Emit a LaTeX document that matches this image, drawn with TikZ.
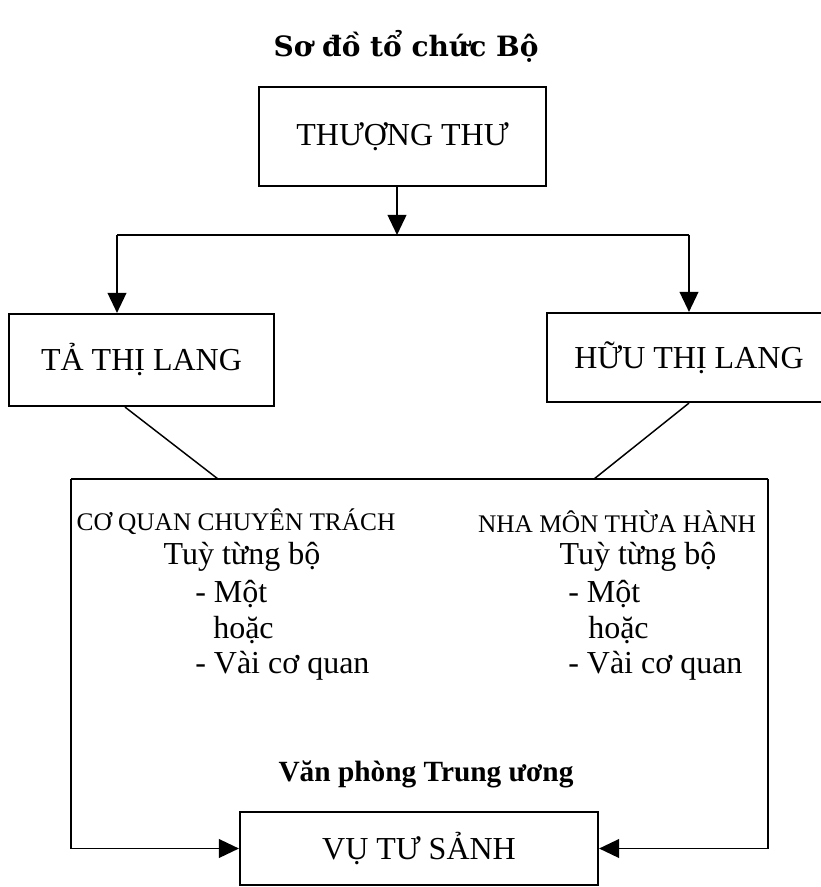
\documentclass[tikz,border=0pt]{standalone}
\usepackage{fontspec}
\setmainfont{Liberation Serif}
\newfontfamily\titlefont{DejaVu Serif}
\usetikzlibrary{arrows.meta}
\tikzset{
  boxnode/.style={draw, line width=1.6pt, inner sep=0pt, font=\fontsize{24pt}{28pt}\selectfont},
  conn/.style={line width=1.3pt},
  diag/.style={line width=1.1pt},
  arr/.style={conn, -{Triangle[length=15pt,width=14pt]}},
  headtxt/.style={inner sep=0pt, font=\fontsize{19pt}{22pt}\selectfont},
  bodytxt/.style={inner sep=0pt, font=\fontsize{24pt}{28pt}\selectfont},
  listtxt/.style={bodytxt, anchor=west},
}
\begin{document}
\begin{tikzpicture}[x=0.75pt, y=-0.75pt]
\useasboundingbox (0,0) rectangle (820,887);
% title
\node[inner sep=0pt, font=\titlefont\bfseries\fontsize{21pt}{25pt}\selectfont] (title) at (406,46) {Sơ đồ tổ chức Bộ};
% boxes
\node[boxnode, minimum width=287*0.75pt, minimum height=99*0.75pt] (top) at (402.5,136.5) {THƯỢNG THƯ};
\node[boxnode, minimum width=265*0.75pt, minimum height=92*0.75pt] (ta) at (141.5,360) {TẢ THỊ LANG};
\node[boxnode, minimum width=284*0.75pt, minimum height=89*0.75pt] (huu) at (689,357.5) {HỮU THỊ LANG};
\node[boxnode, minimum width=358*0.75pt, minimum height=73*0.75pt] (vu) at (419,848.5) {VỤ TƯ SẢNH};
% top connectors
\coordinate (hub) at (397,235);
\coordinate (hl) at (117,235);
\coordinate (hr) at (689,235);
\draw[arr] (hub |- top.south) -- (hub);
\draw[conn] (hl) -- (hr);
\draw[arr] (hl) -- (hl |- ta.north);
\draw[arr] (hr) -- (hr |- huu.north);
% big open frame
\coordinate (tl) at (71,479);
\coordinate (tr) at (768,479);
\coordinate (d1) at (218,479);
\coordinate (d2) at (594,479);
\draw[conn] (tl) -- (tr);
\draw[arr] (tl) |- (vu.west);
\draw[arr] (tr) |- (vu.east);
\draw[diag] ([xshift=-16.5*0.75pt]ta.south) -- (d1);
\draw[diag] (huu.south) -- (d2);
% left column
\node[headtxt] (cq) at (236,522) {CƠ QUAN CHUYÊN TRÁCH};
\node[bodytxt] (tl1) at (242,557) {Tuỳ từng bộ};
\node[listtxt] (tl2) at (195,594) {- Một};
\node[listtxt] (tl3) at (213,630) {hoặc};
\node[listtxt] (tl4) at (195,666) {- Vài cơ quan};
% right column
\node[headtxt] (nm) at (617,522) {NHA MÔN THỪA HÀNH};
\node[bodytxt] (tr1) at (638,557) {Tuỳ từng bộ};
\node[listtxt] (tr2) at (568,594) {- Một};
\node[listtxt] (tr3) at (588,630) {hoặc};
\node[listtxt] (tr4) at (568,666) {- Vài cơ quan};
% central office label
\node[inner sep=0pt, font=\bfseries\fontsize{22pt}{26pt}\selectfont] (vp) at (426,774) {Văn phòng Trung ương};
\end{tikzpicture}
\end{document}
